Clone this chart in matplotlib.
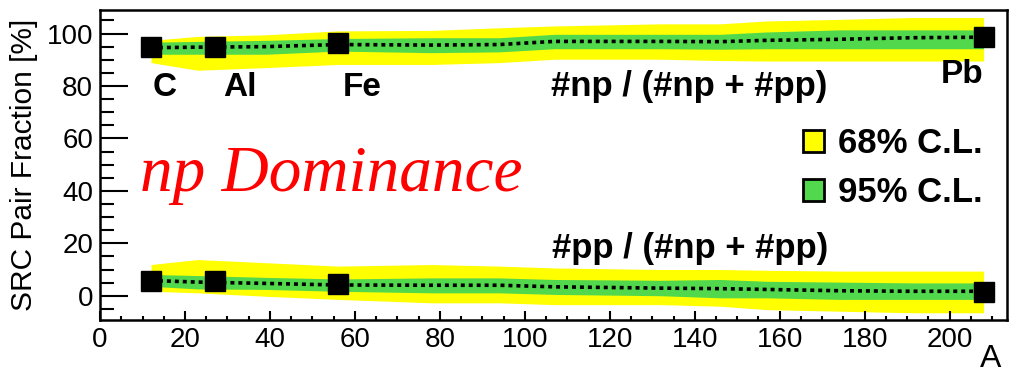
#!/usr/bin/env python3

import matplotlib.pyplot as plt
from matplotlib.patches import Patch
from matplotlib.ticker import MultipleLocator

# measured nuclei
nuclei = ["C", "Al", "Fe", "Pb"]
mass_A = [12, 27, 56, 208]
np_frac = [95.0, 95.0, 96.5, 98.8]
pp_frac = [5.6, 5.5, 4.3, 1.6]

# band nodes (A) and band limits read at each node
band_A = [12, 23, 39, 56, 78, 94, 107, 132, 146, 157, 174, 191, 208]

np_y68_hi = [97.4, 98.9, 99.5, 101.0, 101.2, 102.2, 102.9, 103.7, 103.7, 104.8, 105.4, 106.1, 106.1]
np_y68_lo = [88.9, 86.0, 87.0, 88.2, 88.2, 88.9, 90.2, 90.2, 89.7, 89.5, 89.5, 89.5, 89.5]
np_g95_hi = [96.7, 97.0, 97.4, 98.1, 98.4, 98.4, 99.7, 99.7, 99.7, 100.6, 101.4, 101.4, 101.4]
np_g95_lo = [92.1, 92.1, 92.1, 93.3, 92.7, 93.0, 94.2, 94.2, 94.0, 94.2, 94.2, 94.2, 94.2]
np_mid = [94.6, 94.8, 95.0, 95.8, 95.6, 95.8, 97.0, 97.0, 96.9, 97.4, 97.8, 98.4, 98.6]

pp_y68_hi = [11.9, 13.8, 12.6, 11.3, 11.9, 11.3, 10.6, 10.0, 10.0, 9.7, 9.4, 9.4, 9.4]
pp_y68_lo = [1.7, 1.1, -0.2, -1.4, -2.7, -2.7, -3.4, -3.4, -4.0, -5.3, -5.9, -6.5, -6.5]
pp_g95_hi = [8.1, 7.7, 7.0, 6.4, 6.8, 6.8, 6.2, 5.9, 6.2, 5.5, 5.2, 4.9, 4.9]
pp_g95_lo = [3.6, 2.6, 2.4, 1.7, 1.1, 1.1, 0.5, 0.0, -0.8, -0.8, -1.4, -1.4, -1.4]
pp_mid = [5.8, 5.2, 4.7, 4.1, 4.0, 4.0, 3.4, 2.9, 2.7, 2.4, 1.9, 1.7, 1.7]

yellow = "#ffff00"
green = "#52d84c"

plt.rcParams["font.family"] = ["Liberation Sans", "DejaVu Sans"]

fig = plt.figure(figsize=(10.25, 3.82), dpi=100)
ax = fig.add_axes([0.0976, 0.162, 0.8848, 0.812])

for lo68, hi68, lo95, hi95, mid in [
    (np_y68_lo, np_y68_hi, np_g95_lo, np_g95_hi, np_mid),
    (pp_y68_lo, pp_y68_hi, pp_g95_lo, pp_g95_hi, pp_mid),
]:
    ax.fill_between(band_A, lo68, hi68, color=yellow, lw=0, zorder=1)
    ax.fill_between(band_A, lo95, hi95, color=green, lw=0, zorder=2)
    ax.plot(band_A, mid, color="black", lw=2.6, ls=(0, (1.1, 1.1)), zorder=3)

ax.plot(mass_A, np_frac, "s", color="black", ms=14, zorder=4)
ax.plot(mass_A, pp_frac, "s", color="black", ms=14, zorder=4)

# nucleus labels
label_pos = [(15.3, 79.3), (33, 79.3), (61.6, 79.3), (203, 84.2)]
for name, (xa, ya) in zip(nuclei, label_pos):
    ax.text(xa, ya, name, ha="center", va="center", fontsize=24, fontweight="bold")

ax.text(138.8, 79.7, "#np / (#np + #pp)", ha="center", va="center",
        fontsize=25, fontweight="bold")
ax.text(138.8, 18.2, "#pp / (#np + #pp)", ha="center", va="center",
        fontsize=25, fontweight="bold")
ax.text(54.4, 46, "np Dominance", ha="center", va="center", color="#ff0000",
        fontsize=47, style="italic", family=["Liberation Serif", "DejaVu Serif"])

handles = [
    Patch(facecolor=yellow, edgecolor="black", lw=2, label="68% C.L."),
    Patch(facecolor=green, edgecolor="black", lw=2, label="95% C.L."),
]
leg = ax.legend(handles=handles, loc="upper right", bbox_to_anchor=(1.0, 0.70),
                frameon=False, handlelength=0.6, handleheight=0.6,
                handletextpad=0.4, labelspacing=0.45, borderaxespad=0.3,
                prop={"size": 25, "weight": "bold"})

ax.set_xlim(0, 213.5)
ax.set_ylim(-9.3, 109)
ax.xaxis.set_major_locator(MultipleLocator(20))
ax.xaxis.set_minor_locator(MultipleLocator(5))
ax.yaxis.set_major_locator(MultipleLocator(20))
ax.yaxis.set_minor_locator(MultipleLocator(5))
ax.tick_params(axis="both", which="both", direction="in", labelsize=20,
               top=False, right=False, width=1.5)
ax.tick_params(axis="y", which="major", length=20, pad=5)
ax.tick_params(axis="y", which="minor", length=10)
ax.tick_params(axis="x", which="major", length=6.5)
ax.tick_params(axis="x", which="minor", length=3.2)
ax.tick_params(axis="x", pad=5)
for s in ax.spines.values():
    s.set_linewidth(1.8)

ax.set_ylabel("SRC Pair Fraction [%]", fontsize=21.5, labelpad=6)
fig.text(0.966, 0.02, "A", fontsize=23, ha="center", va="bottom")

plt.savefig("out.png", dpi=100)
